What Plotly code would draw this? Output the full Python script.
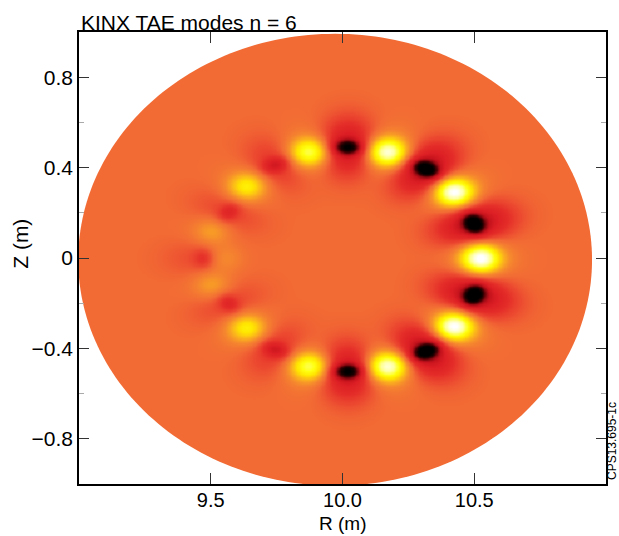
import numpy as np
import plotly.graph_objects as go

# ---- data -----------------------------------------------------------------
# centres (R, Z in metres) of the bright / dark lobes of the n = 6 TAE and their signed strength
blob_R = [10.522, 10.497, 10.422, 10.315, 10.170, 10.018, 9.873, 9.744, 9.636, 9.567, 9.504, 9.552,
          9.472, 9.504, 9.567, 9.636, 9.744, 9.873, 10.018, 10.170, 10.315, 10.422, 10.497]
blob_Z = [0.000, 0.154, 0.293, 0.396, 0.470, 0.492, 0.470, 0.414, 0.318, 0.205, 0.122, 0.000,
          0.000, -0.120, -0.200, -0.308, -0.404, -0.478, -0.500, -0.478, -0.411, -0.301, -0.162]
blob_amp = [1.00, -1.00, 1.00, -1.00, 0.92, -0.85, 0.70, -0.36, 0.50, -0.26, 0.22, 0.18,
            -0.22, 0.22, -0.26, 0.50, -0.36, 0.70, -0.85, 0.92, -1.00, 1.00, -1.00]

# plasma boundary (ellipse)
bnd_R0, bnd_Z0, bnd_a, bnd_b = 9.972, -0.008, 0.975, 1.0

x_tick_vals = [9.5, 10.0, 10.5]
x_tick_text = ["9.5", "10.0", "10.5"]
y_tick_vals = [-0.8, -0.4, 0.0, 0.4, 0.8]
y_tick_text = ["\u22120.8", "\u22120.4", "0", "0.4", "0.8"]
y_minor_vals = [-0.6, -0.2, 0.2, 0.6]

ZERO_COLOR = "#f26b34"

# ---- field on a grid -------------------------------------------------------
ring_R0, ring_Z0 = 10.0, 0.0
kz = 264.5 / 227.0  # makes lobes round on screen

x = np.linspace(9.0, 11.0, 421)
y = np.linspace(-1.0, 1.0, 361)
X, Y = np.meshgrid(x, y)
U = X - ring_R0
W = (Y - ring_Z0) * kz
field = np.zeros_like(X)
for r, z, a in zip(blob_R, blob_Z, blob_amp):
    ub, wb = r - ring_R0, (z - ring_Z0) * kz
    phi = np.arctan2(wb, ub)
    du, dw = U - ub, W - wb
    dr = du * np.cos(phi) + dw * np.sin(phi)
    dt = -du * np.sin(phi) + dw * np.cos(phi)
    if a > 0:
        core = np.exp(-(dr ** 2 / (2 * 0.048 ** 2) + dt ** 2 / (2 * 0.050 ** 2)))
        glow = np.exp(-(dr ** 2 / (2 * 0.085 ** 2) + dt ** 2 / (2 * 0.07 ** 2)))
        field += a * (0.85 * core + 0.22 * glow)
    else:
        core = np.exp(-(dr ** 2 / (2 * 0.026 ** 2) + dt ** 2 / (2 * 0.036 ** 2)))
        halo = np.exp(-(dr ** 2 / (2 * 0.10 ** 2) + dt ** 2 / (2 * 0.07 ** 2)))
        field += a * (0.72 * core + 0.55 * halo)

rho = ((X - bnd_R0) / bnd_a) ** 2 + ((Y - bnd_Z0) / bnd_b) ** 2
field = np.where(rho <= 0.985, np.round(field, 3), np.nan)

colorscale = [
    [0.00, "#000000"],
    [0.07, "#1a0000"],
    [0.13, "#4a0004"],
    [0.19, "#920a12"],
    [0.25, "#c4121c"],
    [0.32, "#dc1e24"],
    [0.39, "#e42c28"],
    [0.45, "#ec4a30"],
    [0.50, ZERO_COLOR],
    [0.56, "#f5862e"],
    [0.64, "#fbb41c"],
    [0.72, "#ffe400"],
    [0.80, "#ffff10"],
    [0.90, "#ffff9a"],
    [1.00, "#ffffff"],
]

# smooth outline of the plasma, drawn under the heatmap
th = np.linspace(0, 2 * np.pi, 241)
bx = bnd_R0 + bnd_a * np.cos(th)
by = bnd_Z0 + bnd_b * np.sin(th)
path = "M " + " L ".join(f"{u:.4f},{v:.4f}" for u, v in zip(bx, by)) + " Z"

fig = go.Figure(go.Heatmap(x=x, y=y, z=field, zmin=-1, zmax=1, colorscale=colorscale,
                           zsmooth="best", showscale=False, hoverinfo="skip"))
fig.add_shape(type="path", path=path, xref="x", yref="y", fillcolor=ZERO_COLOR,
              line=dict(width=0), layer="below")

fig.update_layout(
    width=619, height=536,
    margin=dict(l=79, r=11, t=32, b=52),
    paper_bgcolor="white", plot_bgcolor="white",
    font=dict(family="Liberation Sans, Arial, sans-serif", size=21, color="black"),
    showlegend=False,
)
fig.update_xaxes(range=[9.0, 11.0], tickvals=x_tick_vals, ticktext=x_tick_text,
                 ticks="inside", ticklen=11, tickwidth=1, tickcolor="#333",
                 tickfont=dict(size=20), ticklabelstandoff=-3,
                 showline=True, linecolor="black", linewidth=1.5, mirror="ticks",
                 showgrid=False, zeroline=False)
fig.update_yaxes(range=[-1.0, 1.0], tickvals=y_tick_vals, ticktext=y_tick_text,
                 ticks="inside", ticklen=10, tickwidth=1, tickcolor="#333",
                 minor=dict(tickvals=y_minor_vals, ticks="inside", ticklen=5, tickcolor="#aaa"),
                 showline=True, linecolor="black", linewidth=1.5, mirror="ticks",
                 showgrid=False, zeroline=False)

fig.add_annotation(text="KINX TAE modes n = 6", xref="paper", yref="paper", x=0, y=1.022,
                   xanchor="left", yanchor="middle", showarrow=False, font=dict(size=21))
fig.add_annotation(text="R (m)", xref="paper", yref="paper", x=0.5, y=-0.0865,
                   xanchor="center", yanchor="middle", showarrow=False, font=dict(size=19))
fig.add_annotation(text="Z (m)", xref="paper", yref="paper", x=-0.1115, y=0.532,
                   xanchor="center", yanchor="middle", textangle=-90, showarrow=False,
                   font=dict(size=21))
fig.add_annotation(text="CPS13.695-1c", xref="paper", yref="paper", x=1.0113, y=0.095,
                   xanchor="center", yanchor="middle", textangle=-90, showarrow=False,
                   font=dict(size=12))

fig.write_html("out.html")
